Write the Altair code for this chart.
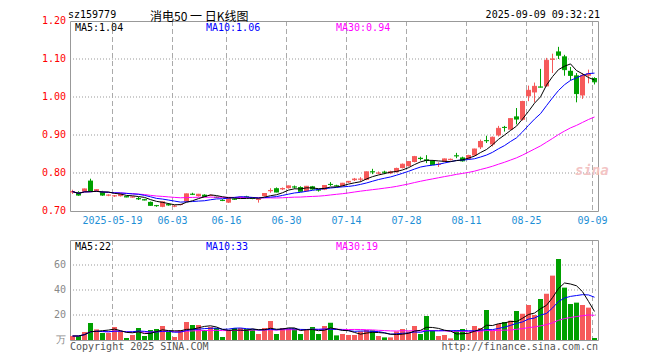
import altair as alt
import pandas as pd

# ---------------- data ----------------
dates = [d.strftime("%Y-%m-%d") for d in pd.bdate_range("2025-05-08", "2025-09-09")
         if d.strftime("%Y-%m-%d") != "2025-06-02"]

opens = [0.749, 0.750, 0.751, 0.780, 0.752, 0.750, 0.741, 0.739, 0.739, 0.739,
         0.736, 0.734, 0.731, 0.724, 0.715, 0.711, 0.718, 0.712, 0.716, 0.725,
         0.745, 0.739, 0.743, 0.740, 0.737, 0.729, 0.722, 0.732, 0.735, 0.738,
         0.734, 0.729, 0.739, 0.752, 0.760, 0.757, 0.760, 0.764, 0.763, 0.752,
         0.765, 0.756, 0.756, 0.771, 0.767, 0.766, 0.775, 0.781, 0.783, 0.782,
         0.804, 0.799, 0.803, 0.799, 0.802, 0.813, 0.818, 0.829, 0.840, 0.836,
         0.832, 0.822, 0.830, 0.834, 0.846, 0.841, 0.837, 0.846, 0.8675, 0.886,
         0.875, 0.899, 0.921, 0.914, 0.949, 0.940, 1.002, 1.012, 1.027, 1.028,
         1.098, 1.120, 1.107, 1.069, 1.057, 1.004, 1.056, 1.050]
highs = [0.756, 0.752, 0.759, 0.785, 0.757, 0.753, 0.744, 0.742, 0.745, 0.740,
         0.739, 0.737, 0.732, 0.725, 0.716, 0.725, 0.721, 0.716, 0.719, 0.746,
         0.748, 0.745, 0.744, 0.743, 0.738, 0.731, 0.734, 0.733, 0.738, 0.740,
         0.735, 0.732, 0.747, 0.760, 0.762, 0.762, 0.767, 0.767, 0.765, 0.766,
         0.766, 0.758, 0.768, 0.776, 0.769, 0.774, 0.779, 0.787, 0.789, 0.804,
         0.811, 0.804, 0.806, 0.806, 0.814, 0.825, 0.831, 0.845, 0.843, 0.847,
         0.834, 0.828, 0.838, 0.838, 0.853, 0.843, 0.848, 0.864, 0.888, 0.898,
         0.896, 0.924, 0.924, 0.944, 0.971, 0.990, 1.030, 1.038, 1.074, 1.103,
         1.114, 1.132, 1.111, 1.079, 1.063, 1.063, 1.072, 1.052]
lows = [0.745, 0.740, 0.750, 0.751, 0.751, 0.740, 0.739, 0.737, 0.738, 0.736,
        0.735, 0.729, 0.728, 0.714, 0.711, 0.710, 0.714, 0.710, 0.715, 0.724,
        0.742, 0.738, 0.737, 0.739, 0.735, 0.726, 0.721, 0.729, 0.733, 0.735,
        0.731, 0.722, 0.738, 0.748, 0.749, 0.755, 0.759, 0.759, 0.751, 0.751,
        0.756, 0.751, 0.755, 0.766, 0.764, 0.765, 0.774, 0.779, 0.777, 0.781,
        0.797, 0.797, 0.797, 0.797, 0.801, 0.812, 0.817, 0.828, 0.833, 0.826,
        0.821, 0.816, 0.829, 0.833, 0.839, 0.830, 0.835, 0.845, 0.863, 0.879,
        0.870, 0.896, 0.909, 0.913, 0.928, 0.938, 0.989, 0.986, 1.025, 1.027,
        1.063, 1.100, 1.056, 1.044, 0.986, 0.995, 1.036, 1.033]
closes = [0.751, 0.742, 0.758, 0.752, 0.756, 0.742, 0.742, 0.740, 0.744, 0.737,
          0.737, 0.732, 0.729, 0.715, 0.714, 0.724, 0.716, 0.713, 0.717, 0.745,
          0.744, 0.744, 0.738, 0.741, 0.736, 0.728, 0.733, 0.731, 0.736, 0.737,
          0.733, 0.731, 0.746, 0.754, 0.750, 0.759, 0.766, 0.763, 0.752, 0.765,
          0.758, 0.755, 0.767, 0.770, 0.766, 0.773, 0.778, 0.784, 0.784, 0.803,
          0.803, 0.800, 0.802, 0.803, 0.812, 0.823, 0.830, 0.843, 0.838, 0.833,
          0.822, 0.823, 0.837, 0.836, 0.845, 0.832, 0.846, 0.863, 0.883, 0.885,
          0.894, 0.9175, 0.920, 0.943, 0.942, 0.988, 1.0175, 1.028, 1.026, 1.0965,
          1.100, 1.110, 1.072, 1.057, 1.009, 1.057, 1.061, 1.040]
volumes = [3.2, 3.2, 6.4, 13.6, 8.5, 5.6, 5.6, 10.4, 7.2, 1.6,
           4.0, 9.6, 3.2, 8.0, 8.8, 11.2, 6.4, 2.4, 8.0, 14.4,
           12.0, 12.0, 8.0, 10.4, 9.6, 2.4, 8.0, 9.6, 9.6, 8.8,
           8.5, 4.8, 9.6, 15.2, 4.8, 9.6, 9.3, 9.3, 4.8, 8.0,
           10.4, 4.8, 11.2, 13.8, 3.7, 4.8, 4.0, 4.0, 6.9, 8.0,
           7.7, 3.2, 2.1, 2.1, 6.9, 8.8, 6.9, 11.2, 4.8, 19.2,
           8.0, 3.2, 4.0, 1.3, 7.7, 8.8, 5.6, 11.2, 9.6, 24.0,
           7.5, 12.8, 14.4, 15.5, 23.2, 21.0, 28.0, 20.0, 32.8, 37.0,
           51.5, 64.8, 41.9, 28.8, 29.9, 28.0, 25.9, 1.6]

tick_dates = ["2025-05-19", "2025-06-03", "2025-06-16", "2025-06-30", "2025-07-14",
              "2025-07-28", "2025-08-11", "2025-08-25", "2025-09-09"]
tick_texts = ["2025-05-19", "06-03", "06-16", "06-30", "07-14",
              "07-28", "08-11", "08-25", "09-09"]
price_ticks = [1.20, 1.10, 1.00, 0.90, 0.80, 0.70]
price_grid = [1.10, 1.00, 0.90, 0.80]
vol_ticks = [60, 40, 20, 0]
vol_tick_texts = ["60", "40", "20", "万"]
vol_grid = [60, 40, 20]

# ---------------- styling ----------------
RED = "#f65a5a"
GREEN = "#00a000"
MONO = "DejaVu Sans Mono"
W = 529
HALF = 5 / 12

xs = alt.Scale(domain=[-HALF, -HALF + W / 6], range=[0, W])
ps = alt.Scale(domain=[0.70, 1.20], range=[190, 0])
vs = alt.Scale(domain=[0, 80], range=[319, 219])

df = pd.DataFrame({"i": list(range(len(dates))), "date": dates, "open": opens,
                   "high": highs, "low": lows, "close": closes, "vol": volumes})
base = alt.Chart(df).transform_calculate(
    xl=f"datum.i - {HALF}", xr=f"datum.i + {HALF}", zero="0")
color = alt.condition("datum.close >= datum.open", alt.value(RED), alt.value(GREEN))

X = lambda f: alt.X(f, scale=xs, axis=None)

wick = base.mark_rule(strokeWidth=1).encode(
    x=X("i:Q"), y=alt.Y("low:Q", scale=ps, axis=None), y2="high:Q", color=color)
body = base.mark_rect().encode(
    x=X("xl:Q"), x2="xr:Q", y=alt.Y("open:Q", scale=ps, axis=None), y2="close:Q", color=color)
doji = base.mark_rule(strokeWidth=1).encode(
    x=X("xl:Q"), x2="xr:Q", y=alt.Y("close:Q", scale=ps, axis=None), color=color)
vbar = base.mark_rect().encode(
    x=X("xl:Q"), x2="xr:Q", y=alt.Y("vol:Q", scale=vs, axis=None), y2="zero:Q", color=color)

def ma_line(field, n, col, scale):
    return base.transform_window(
        ma=f"mean({field})", frame=[-(n - 1), 0], sort=[alt.SortField("i")]
    ).mark_line(color=col, strokeWidth=1).encode(
        x=X("i:Q"), y=alt.Y("ma:Q", scale=scale, axis=None))

mas = [ma_line("close", 30, "#ff00ff", ps), ma_line("close", 10, "#0000ff", ps),
       ma_line("close", 5, "#000000", ps),
       ma_line("vol", 30, "#ff00ff", vs), ma_line("vol", 10, "#0000ff", vs),
       ma_line("vol", 5, "#000000", vs)]

# grid
tick_df = pd.DataFrame({"i": [dates.index(d) for d in tick_dates], "t": tick_texts})
vg = alt.Chart(tick_df).transform_calculate(xg=f"datum.i - {HALF} + 1/12")
vgrid_up = vg.mark_rule(color="#aaaaaa", strokeDash=[5, 3]).encode(
    x=X("xg:Q"), y=alt.value(0), y2=alt.value(190))
vgrid_dn = vg.mark_rule(color="#aaaaaa", strokeDash=[5, 3]).encode(
    x=X("xg:Q"), y=alt.value(219), y2=alt.value(319))
xlabels = vg.mark_text(font=MONO, fontSize=10, color="#1e8fd6", baseline="middle").encode(
    x=X("xg:Q"), y=alt.value(200), text="t:N")

hgrid_up = alt.Chart(pd.DataFrame({"v": price_grid})).mark_rule(
    color="#999999", strokeDash=[1, 2]).encode(
    y=alt.Y("v:Q", scale=ps, axis=None), x=alt.value(0), x2=alt.value(W))
hgrid_dn = alt.Chart(pd.DataFrame({"v": vol_grid})).mark_rule(
    color="#999999", strokeDash=[1, 2]).encode(
    y=alt.Y("v:Q", scale=vs, axis=None), x=alt.value(0), x2=alt.value(W))

ylab_up = alt.Chart(pd.DataFrame({"v": price_ticks, "t": [f"{p:.2f}" for p in price_ticks]})).mark_text(
    align="right", baseline="middle", font=MONO, fontSize=10, color="#ff0000").encode(
    x=alt.value(-4), y=alt.Y("v:Q", scale=ps, axis=None), text="t:N")
ylab_dn = alt.Chart(pd.DataFrame({"v": vol_ticks, "t": vol_tick_texts})).mark_text(
    align="right", baseline="middle", font=MONO, fontSize=10, color="#888888").encode(
    x=alt.value(-4), y=alt.Y("v:Q", scale=vs, axis=None), text="t:N")

one = pd.DataFrame({"a": [0]})
box_up = alt.Chart(one).mark_rect(fillOpacity=0, stroke="#999999", strokeWidth=1).encode(
    x=alt.value(0.5), x2=alt.value(W - 0.5), y=alt.value(0.5), y2=alt.value(190.5))
box_dn = alt.Chart(one).mark_rect(fillOpacity=0, stroke="#999999", strokeWidth=1).encode(
    x=alt.value(0.5), x2=alt.value(W - 0.5), y=alt.value(219.5), y2=alt.value(319.5))


def label(text, x, y, color="#000000", align="left", size=10, font=MONO, **kw):
    return alt.Chart(pd.DataFrame({"t": [text]})).mark_text(
        align=align, baseline="middle", fontSize=size, font=font, color=color, **kw).encode(
        text="t:N", x=alt.value(x), y=alt.value(y))

texts = [
    label("sz159779", -2, -6),
    label("消电50 一 日K线图", 80, -4.5, size=12, font="Noto Sans CJK SC"),
    label("2025-09-09 09:32:21", 530, -6, align="right"),
    label("MA5:1.04", 5, 7),
    label("MA10:1.06", 136, 7, color="#0000ff"),
    label("MA30:0.94", 266, 7, color="#ff00ff"),
    label("MA5:22", 5, 226),
    label("MA10:33", 136, 226, color="#0000ff"),
    label("MA30:19", 266, 226, color="#ff00ff"),
    label("Copyright 2025 SINA.COM", 0, 326, color="#555555"),
    label("http://finance.sina.com.cn", 528, 326, color="#555555", align="right"),
    label("sina", 505, 150, color="#f3c4c4", size=14, fontStyle="italic", fontWeight="bold"),
]

chart = alt.layer(
    hgrid_up, hgrid_dn, vgrid_up, vgrid_dn, box_up, box_dn,
    *texts[-1:],
    vbar, wick, body, doji, *mas,
    ylab_up, ylab_dn, xlabels, *texts[:-1],
).resolve_scale(y="independent").properties(
    width=W, height=335,
    autosize=alt.AutoSizeParams(type="none"),
    padding={"left": 62, "top": 13, "right": 30, "bottom": 0},
    background="white",
).configure_view(strokeWidth=0)

chart.save("out.html", embed_options={"renderer": "svg", "actions": False})
